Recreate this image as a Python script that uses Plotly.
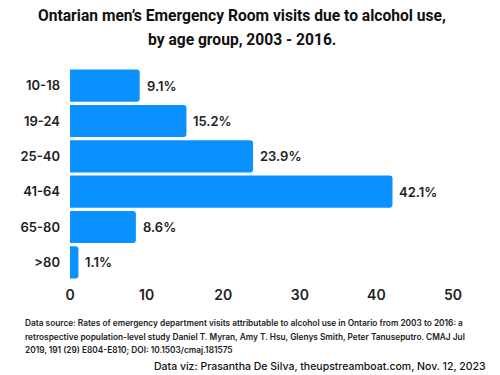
import plotly.graph_objects as go

age_groups = ["10-18", "19-24", "25-40", "41-64", "65-80", ">80"]
percent = [9.1, 15.2, 23.9, 42.1, 8.6, 1.1]
x_ticks = [0, 10, 20, 30, 40, 50]

FONT = "Inter"
TITLE_FONT = "Roboto"
BLUE = "#0991FF"

fig = go.Figure()
fig.add_trace(go.Bar(
    y=age_groups, x=percent, orientation="h",
    marker=dict(color=BLUE, line=dict(width=0)),
    hoverinfo="skip",
))

for a, v in zip(age_groups, percent):
    fig.add_annotation(x=v, y=a, text=f"{v}%", showarrow=False,
                       xanchor="left", xshift=5,
                       font=dict(family=FONT, size=13, color="#222", weight=600))

fig.update_layout(
    width=500, height=375,
    margin=dict(l=70, r=47, t=68, b=95, autoexpand=False),
    paper_bgcolor="white", plot_bgcolor="white",
    barcornerradius=3,
    bargap=0.09,
    showlegend=False,
    font=dict(family=FONT, color="#222"),
)
fig.update_xaxes(range=[0, 50], tickvals=x_ticks, showgrid=False, zeroline=False,
                 showline=False, ticks="", tickfont=dict(family=FONT, size=14, color="#222", weight=600),
                 ticklabelstandoff=5)
fig.update_yaxes(categoryorder="array", categoryarray=age_groups, autorange="reversed",
                 showgrid=False, showline=False, ticks="",
                 tickfont=dict(family=FONT, size=13, color="#222", weight=600), ticklabelstandoff=9)

title_lines = ["Ontarian men’s Emergency Room visits due to alcohol use,",
               "by age group, 2003 - 2016."]
for line, yp in zip(title_lines, [1.245, 1.132]):
    fig.add_annotation(xref="paper", yref="paper", x=0.449, y=yp, xanchor="center", yanchor="middle",
                       showarrow=False, text=line,
                       font=dict(family=TITLE_FONT, size=15.6, color="#111", weight=700))

source_lines = [
    "Data source: Rates of emergency department visits attributable to alcohol use in Ontario from 2003 to 2016: a",
    "retrospective population-level study Daniel T. Myran, Amy T. Hsu, Glenys Smith, Peter Tanuseputro. CMAJ Jul",
    "2019, 191 (29) E804-E810; DOI: 10.1503/cmaj.181575",
]
for line, yp in zip(source_lines, [-0.203, -0.269, -0.330]):
    fig.add_annotation(xref="paper", yref="paper", x=-0.1227, y=yp, xanchor="left", yanchor="middle",
                       showarrow=False, text=line,
                       font=dict(family=FONT, size=8.3, color="#222", weight=600))

fig.add_annotation(
    xref="paper", yref="paper", x=1.0914, y=-0.41, xanchor="right", yanchor="middle",
    showarrow=False,
    text="Data viz: Prasantha De Silva, theupstreamboat.com, Nov. 12, 2023",
    font=dict(family=FONT, size=10.5, color="#111", weight=500),
)

fig.write_html("out.html", config={"displayModeBar": False},
               post_script="document.body.style.margin='0';")
